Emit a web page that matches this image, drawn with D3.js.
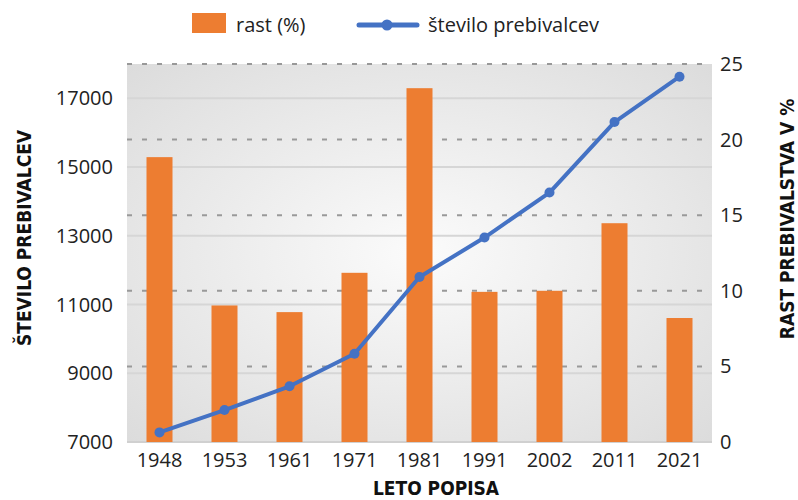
<!DOCTYPE html>
<html>
<head>
<meta charset="utf-8">
<script src="https://cdn.jsdelivr.net/npm/d3@7"></script>
<style>
  body { margin: 0; background: #fff; }
  text { font-family: "Open Sans", "Noto Sans", sans-serif; fill: #222; }
  .title { font-family: "DejaVu Sans Condensed", "Noto Sans", sans-serif; font-weight: bold; font-size: 19px; fill: #111; }
</style>
</head>
<body>
<svg id="chart" width="798" height="500"></svg>
<script>
// Podatki
const leta = ["1948", "1953", "1961", "1971", "1981", "1991", "2002", "2011", "2021"];
const rast = [18.84, 9.03, 8.59, 11.19, 23.4, 9.93, 10.0, 14.47, 8.2];
const prebivalci = [7280, 7930, 8620, 9570, 11800, 12950, 14260, 16310, 17630];
const leviTicki = [7000, 9000, 11000, 13000, 15000, 17000];
const desniTicki = [0, 5, 10, 15, 20, 25];

const svg = d3.select("#chart");
const pLeft = 127, pRight = 712, pTop = 64, pBottom = 442;

const x = d3.scaleBand().domain(leta).range([pLeft, pRight]).paddingInner(0.6).paddingOuter(0.3);
const yL = d3.scaleLinear().domain([7000, 18000]).range([pBottom, pTop]);
const yR = d3.scaleLinear().domain([0, 25]).range([pBottom, pTop]);

// Ozadje z gradientom
const defs = svg.append("defs");
const grad = defs.append("radialGradient").attr("id", "bg")
  .attr("cx", "50%").attr("cy", "50%").attr("r", "70%");
grad.append("stop").attr("offset", "0%").attr("stop-color", "#fbfbfb");
grad.append("stop").attr("offset", "100%").attr("stop-color", "#dcdcdc");

svg.append("rect")
  .attr("x", pLeft).attr("y", pTop)
  .attr("width", pRight - pLeft).attr("height", pBottom - pTop)
  .attr("fill", "url(#bg)");

// Mreža - polne črte (levo)
svg.selectAll(".gridL")
  .data(leviTicki.filter(d => d > 7000))
  .enter().append("line")
  .attr("x1", pLeft).attr("x2", pRight)
  .attr("y1", d => yL(d)).attr("y2", d => yL(d))
  .style("stroke", "#d6d6d6").style("stroke-width", 2);

// Mreža - črtkane (desno)
svg.selectAll(".gridR")
  .data(desniTicki.filter(d => d > 0))
  .enter().append("line")
  .attr("x1", pLeft).attr("x2", pRight)
  .attr("y1", d => yR(d)).attr("y2", d => yR(d))
  .style("stroke", "#999").style("stroke-width", 2)
  .style("stroke-dasharray", "5,10");

// os x
svg.append("line")
  .attr("x1", pLeft).attr("x2", pRight)
  .attr("y1", pBottom).attr("y2", pBottom)
  .style("stroke", "#d0d0d0").style("stroke-width", 2);

// Stolpci
svg.selectAll(".bar")
  .data(rast)
  .enter().append("rect")
  .attr("x", (d, i) => x(leta[i]))
  .attr("y", d => yR(d))
  .attr("width", x.bandwidth())
  .attr("height", d => pBottom - yR(d))
  .style("fill", "#ED7D31");

// Črta
const line = d3.line()
  .x((d, i) => x(leta[i]) + x.bandwidth() / 2)
  .y(d => yL(d));

svg.append("path")
  .datum(prebivalci)
  .attr("d", line)
  .style("fill", "none")
  .style("stroke", "#4472C4")
  .style("stroke-width", 4)
  .style("stroke-linejoin", "round");

svg.selectAll(".dot")
  .data(prebivalci)
  .enter().append("circle")
  .attr("cx", (d, i) => x(leta[i]) + x.bandwidth() / 2)
  .attr("cy", d => yL(d))
  .attr("r", 5)
  .style("fill", "#4472C4");

// Oznake osi
svg.selectAll(".tickL")
  .data(leviTicki)
  .enter().append("text")
  .attr("x", 113).attr("y", d => yL(d))
  .attr("dy", "0.35em")
  .attr("text-anchor", "end")
  .style("font-size", "20px")
  .text(d => d);

svg.selectAll(".tickR")
  .data(desniTicki)
  .enter().append("text")
  .attr("x", 720).attr("y", d => yR(d))
  .attr("dy", "0.35em")
  .style("font-size", "20px")
  .text(d => d);

svg.selectAll(".tickX")
  .data(leta)
  .enter().append("text")
  .attr("x", d => x(d) + x.bandwidth() / 2)
  .attr("y", 467)
  .attr("text-anchor", "middle")
  .style("font-size", "20px")
  .text(d => d);

// Naslovi osi
svg.append("text").attr("class", "title")
  .attr("x", 436).attr("y", 495)
  .attr("text-anchor", "middle")
  .text("LETO POPISA");

svg.append("text").attr("class", "title")
  .attr("transform", "translate(31,238) rotate(-90)")
  .attr("text-anchor", "middle")
  .text("ŠTEVILO PREBIVALCEV");

svg.append("text").attr("class", "title")
  .attr("transform", "translate(794,219) rotate(-90)")
  .attr("text-anchor", "middle")
  .text("RAST PREBIVALSTVA V %");

// Legenda
svg.append("rect")
  .attr("x", 192).attr("y", 13).attr("width", 34).attr("height", 20)
  .style("fill", "#ED7D31");
svg.append("text")
  .attr("x", 236).attr("y", 32)
  .style("font-size", "20px")
  .text("rast (%)");

svg.append("line")
  .attr("x1", 359).attr("x2", 417).attr("y1", 25).attr("y2", 25)
  .style("stroke", "#4472C4").style("stroke-width", 5)
  .style("stroke-linecap", "round");
svg.append("circle")
  .attr("cx", 387).attr("cy", 25).attr("r", 5.5)
  .style("fill", "#4472C4");
svg.append("text")
  .attr("x", 428).attr("y", 32)
  .style("font-size", "20px")
  .text("število prebivalcev");
</script>
</body>
</html>
